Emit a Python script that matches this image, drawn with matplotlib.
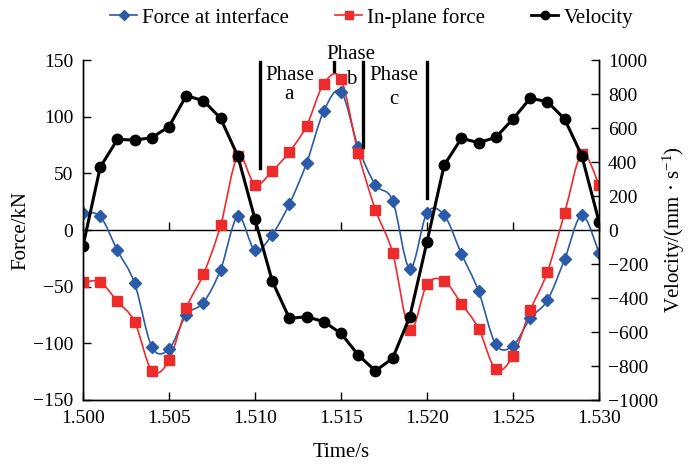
import matplotlib

matplotlib.use("Agg")
import matplotlib.pyplot as plt
import numpy as np
from matplotlib.lines import Line2D
from matplotlib.patches import PathPatch
from matplotlib.path import Path

plt.rcParams["font.family"] = ["Liberation Serif", "DejaVu Serif"]
plt.rcParams["mathtext.fontset"] = "custom"
plt.rcParams["mathtext.rm"] = "Liberation Serif"
plt.rcParams["mathtext.it"] = "Liberation Serif:italic"

# data
time_s = [1.500, 1.501, 1.502, 1.503, 1.504, 1.505, 1.506, 1.507, 1.508, 1.509,
          1.510, 1.511, 1.512, 1.513, 1.514, 1.515, 1.516, 1.517, 1.518, 1.519,
          1.520, 1.521, 1.522, 1.523, 1.524, 1.525, 1.526, 1.527, 1.528, 1.529,
          1.530]
force_interface = [15, 12, -18, -47, -103, -105, -75, -64, -35, 12,
                   -18, -4, 23, 59, 105, 122, 73, 40, 26, -34,
                   15, 13, -21, -54, -101, -102, -78, -62, -26, 13,
                   -20]
force_inplane = [-46, -46, -63, -81, -124, -115, -69, -39, 4, 65,
                 40, 52, 69, 92, 129, 133, 68, 18, -20, -88,
                 -48, -45, -65, -87, -123, -111, -71, -37, 15, 67,
                 40]
velocity = [-94, 369, 533, 529, 543, 608, 790, 761, 657, 435,
            63, -300, -520, -510, -539, -608, -735, -829, -755, -510,
            -69, 382, 539, 514, 545, 653, 775, 755, 653, 437,
            49]

x_ticks = [1.500, 1.505, 1.510, 1.515, 1.520, 1.525, 1.530]

# phase boundary markers: (time, bottom kN, top kN)
phase_lines = [(1.5103, 55, 148), (1.5146, 140, 148), (1.5163, 73, 148), (1.5200, 28, 148)]
# phase labels: (time, baseline kN, text)
phase_texts = [(1.5120, 132, "Phase"), (1.5120, 115.5, "a"),
               (1.5156, 151, "Phase"), (1.5156, 129, "b"),
               (1.5181, 132, "Phase"), (1.5181, 111, "c")]

BLUE = "#2b5ba8"
RED = "#ee2b2b"


def smooth_path(x, y):
    # Catmull-Rom style bezier through the points (like a smoothed line)
    x = np.asarray(x, dtype=float)
    y = np.asarray(y, dtype=float)
    n = len(x)
    verts = [(x[0], y[0])]
    codes = [Path.MOVETO]
    for i in range(n - 1):
        xa, ya = (x[i - 1], y[i - 1]) if i > 0 else (x[i], y[i])
        xb, yb = (x[i + 2], y[i + 2]) if i + 2 < n else (x[i + 1], y[i + 1])
        c1 = (x[i] + (x[i + 1] - xa) / 6, y[i] + (y[i + 1] - ya) / 6)
        c2 = (x[i + 1] - (xb - x[i]) / 6, y[i + 1] - (yb - y[i]) / 6)
        verts += [c1, c2, (x[i + 1], y[i + 1])]
        codes += [Path.CURVE4] * 3
    return Path(verts, codes)


fig = plt.figure(figsize=(6.88, 4.69), dpi=100)
ax = fig.add_axes([83 / 688, 1 - 400 / 469, 516 / 688, 340 / 469])
ax2 = ax.twinx()

ax.add_patch(PathPatch(smooth_path(time_s, force_interface), fill=False, edgecolor=BLUE, lw=1.2))
ax.plot(time_s, force_interface, ls="none", marker="D", ms=6, color=BLUE)
ax.add_patch(PathPatch(smooth_path(time_s, force_inplane), fill=False, edgecolor=RED, lw=1.2))
ax.plot(time_s, force_inplane, ls="none", marker="s", ms=7.5, color=RED)
ax2.plot(time_s, velocity, color="black", lw=2.2, marker="o", ms=7.5)

for t, lo, hi in phase_lines:
    ax.plot([t, t], [lo, hi], color="black", lw=2.4, clip_on=False)
for t, yb, s in phase_texts:
    ax.text(t, yb, s, ha="center", va="baseline", fontsize=15, clip_on=False)

ax.set_xlim(1.500, 1.530)
ax.set_ylim(-150, 150)
ax2.set_ylim(-1000, 1000)
ax.set_xticks(x_ticks)
ax.set_xticklabels([f"{t:.3f}" for t in x_ticks])
ax.set_yticks([-150, -100, -50, 0, 50, 100, 150])
ax2.set_yticks(np.arange(-1000, 1001, 200))

ax.tick_params(axis="both", direction="in", length=6, width=1, labelsize=14, pad=7)
ax2.tick_params(axis="y", direction="in", length=6, width=1, labelsize=14, pad=6.5)
for a in (ax, ax2):
    a.spines["top"].set_visible(False)
    for sp in a.spines.values():
        sp.set_linewidth(1.0)

# zero line with small upward ticks
zero_axis = ax.secondary_xaxis(0.5)
zero_axis.set_xticks(x_ticks)
zero_axis.tick_params(axis="x", direction="out", length=6, width=1, labeltop=False, labelbottom=False)
zero_axis.spines["top"].set_linewidth(1.0)

ax.set_xlabel("Time/s", fontsize=15, labelpad=12)
ax.set_ylabel("Force/kN", fontsize=15, labelpad=2)
ax2.set_ylabel(r"Velocity/(mm · s$^{-1}$)", fontsize=15, labelpad=2)

handles = [
    Line2D([], [], color=BLUE, lw=1.2, marker="D", ms=5),
    Line2D([], [], color=RED, lw=1.2, marker="s", ms=6),
    Line2D([], [], color="black", lw=2.0, marker="o", ms=6),
]
fig.legend(handles, ["Force at interface", "In-plane force", "Velocity"],
           loc="center", bbox_to_anchor=(0.54, 0.962), ncol=3, frameon=False,
           fontsize=15, handlelength=1.3, handletextpad=0.25, columnspacing=2.2)

fig.savefig("out.png", dpi=100)
